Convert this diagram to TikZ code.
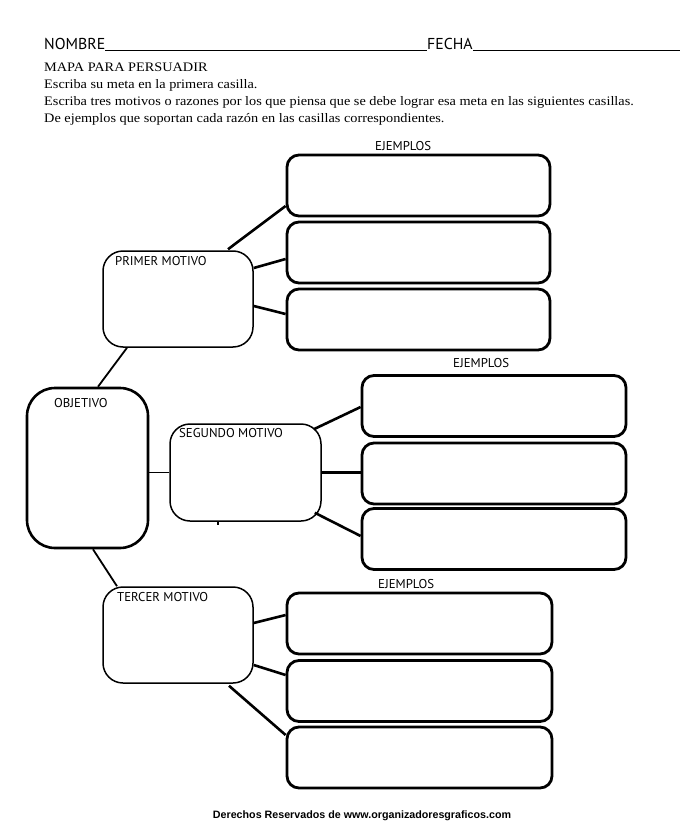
\documentclass[tikz,border=0pt]{standalone}
\usepackage{fontspec}
\setmainfont[FakeStretch=1.1]{Liberation Serif}
\newfontfamily\lblfont{PT Sans}
\newfontfamily\footfont{Liberation Sans}
\usetikzlibrary{calc}
\tikzset{
  motbox/.style={draw, line width=1.5pt, rounded corners=20pt, minimum width=150pt, minimum height=96pt, inner sep=0pt, fill=white},
  objbox/.style={draw, line width=2.6pt, rounded corners=28pt, minimum width=121pt, minimum height=160pt, inner sep=0pt, fill=white},
  ejbox/.style={draw, line width=2.8pt, rounded corners=12pt, minimum height=61pt, inner sep=0pt, fill=white},
  thick link/.style={line width=2.6pt},
  thin link/.style={line width=1.8pt},
  lbl/.style={font=\lblfont\fontsize{12.8}{15}\selectfont, anchor=base west, inner sep=0pt},
  body/.style={font=\fontsize{13}{15}\selectfont, anchor=base west, inner sep=0pt},
  hdr/.style={font=\lblfont\fontsize{15.8}{18}\selectfont, anchor=base west, inner sep=0pt}
}
\begin{document}
\begin{tikzpicture}[x=1pt,y=-1pt]
\useasboundingbox (0,0) rectangle (700,840);
% header
\node[hdr] (nombre) at (44,50) {NOMBRE};
\node[hdr] (fecha) at (427,50) {FECHA};
\coordinate (f2) at (680,50);
\draw[line width=0.9pt] (nombre.base east) -- (fecha.base west);
\draw[line width=0.9pt] (fecha.base east) -- (f2);
\node[body] (t1) at (44,72) {MAPA PARA PERSUADIR};
\node[body] (t2) at (44,89) {Escriba su meta en la primera casilla.};
\node[body] (t3) at (44,106) {Escriba tres motivos o razones por los que piensa que se debe lograr esa meta en las siguientes casillas.};
\node[body] (t4) at (44,123) {De ejemplos que soportan cada razón en las casillas correspondientes.};

% boxes
\node[motbox] (primer) at (178,299) {};
\node[motbox, minimum width=151pt, minimum height=97pt] (segundo) at (245.5,472.5) {};
\node[motbox] (tercer) at (178,635) {};
\node[objbox] (objetivo) at (87.5,468) {};

\node[ejbox, minimum width=263pt] (e11) at (418.5,185.5) {};
\node[ejbox, minimum width=263pt] (e12) at (418.5,252.5) {};
\node[ejbox, minimum width=263pt] (e13) at (418.5,319.5) {};
\node[ejbox, minimum width=264pt] (e21) at (494,406) {};
\node[ejbox, minimum width=264pt] (e22) at (494,473.5) {};
\node[ejbox, minimum width=264pt] (e23) at (494,539) {};
\node[ejbox, minimum width=265pt] (e31) at (419.5,623.5) {};
\node[ejbox, minimum width=265pt] (e32) at (419.5,691) {};
\node[ejbox, minimum width=265pt] (e33) at (419.5,757.5) {};

% objetivo links
\draw[thin link] ($(objetivo.north)+(10.5,0)$) -- ($(primer.south)+(-51,0)$);
\draw[thin link] (segundo.west) -- (segundo.west -| objetivo.east);
\draw[thin link] ($(objetivo.south)+(5.5,0)$) -- ($(tercer.north)+(-61,0)$);
% primer links
\draw[thick link] ($(primer.north)+(50,-1)$) -- ($(e11.west)+(0,20.5)$);
\draw[thick link] ($(primer.east)+(0,-31)$) -- ($(e12.west)+(0,6.5)$);
\draw[thick link] ($(primer.east)+(0,7)$) -- ($(e13.west)+(0,-5.5)$);
% segundo links
\draw[thick link] ($(segundo.north east)+(-8,6)$) -- ($(e21.west)+(0,1)$);
\draw[thick link] (segundo.east) -- (segundo.east -| e22.west);
\draw[thick link] ($(segundo.south east)+(-7,-9)$) -- ($(e23.west)+(0,-3)$);
\draw[line width=1.5pt] ($(segundo.south)+(-27.5,0)$) -- ++(0,3);
% tercer links
\draw[thick link] ($(tercer.east)+(0,-12)$) -- ($(e31.west)+(0,-8.5)$);
\draw[thick link] ($(tercer.east)+(0,30)$) -- ($(e32.west)+(0,-16)$);
\draw[thick link] ($(tercer.south)+(51,2)$) -- ($(e33.west)+(0,-22.5)$);

% labels
\node[lbl] (lp) at (115,265) {PRIMER MOTIVO};
\node[lbl] (lo) at (54,407) {OBJETIVO};
\node[lbl] (ls) at (179,437) {SEGUNDO MOTIVO};
\node[lbl] (lt) at (117,601) {TERCER MOTIVO};
\node[lbl] (ej1) at (375,150) {EJEMPLOS};
\node[lbl] (ej2) at (453,367) {EJEMPLOS};
\node[lbl] (ej3) at (378,588) {EJEMPLOS};

% footer
\node[font=\footfont\bfseries\fontsize{10.7}{12}\selectfont, inner sep=0pt, anchor=base] (foot) at (362,818) {Derechos Reservados de www.organizadoresgraficos.com};
\end{tikzpicture}
\end{document}
